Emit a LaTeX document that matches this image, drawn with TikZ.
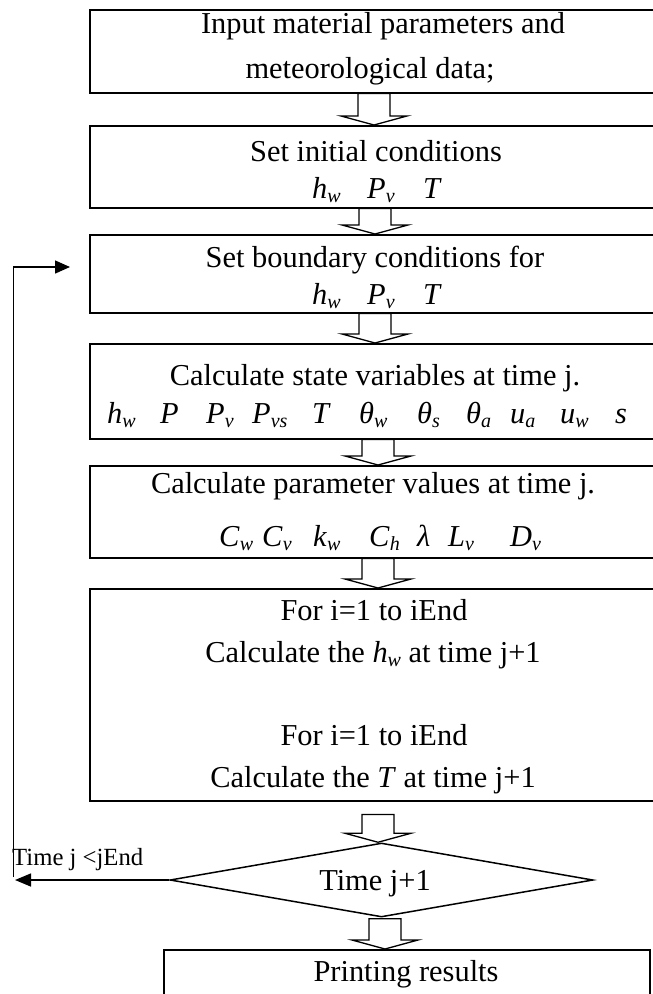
\documentclass[tikz,border=0pt]{standalone}
\usepackage{fontspec}
\setmainfont{Liberation Serif}
\usetikzlibrary{shapes.geometric,arrows.meta,calc}
\newcommand{\vr}[2]{\textit{#1}\raisebox{-4pt}{\fontsize{20}{20}\selectfont\itshape #2}}
\newcommand{\blkarrow}[4]{%
  \draw[barrow] let \p1=(#1.south), \p2=(#2.north) in
    (#3pt-16pt,\y1-#4pt) -- (#3pt-16pt,\y2+9pt) -- (#3pt-33pt,\y2+9pt) -- (#3pt,\y2)
    -- (#3pt+33pt,\y2+9pt) -- (#3pt+16pt,\y2+9pt) -- (#3pt+16pt,\y1-#4pt) -- cycle;}
\begin{document}
\begin{tikzpicture}[x=1pt,y=-1pt,
  box/.style={draw, line width=1.5pt, rectangle, inner sep=0pt, anchor=north west},
  txt/.style={font=\fontsize{30.4}{36}\selectfont, inner sep=0pt, anchor=base},
  vtxt/.style={font=\fontsize{30.4}{36}\selectfont, inner sep=0pt, anchor=base west},
  barrow/.style={draw, line width=1.3pt, line join=miter},
  loopline/.style={line width=1.5pt},
  lbl/.style={font=\fontsize{24.7}{28}\selectfont, inner sep=0pt, anchor=base west}]
\useasboundingbox (0,0) rectangle (653,994);
\fill[white] (0,0) rectangle (653,994);
\clip (0,0) rectangle (653,994);

% boxes
\node[box, minimum width=572pt, minimum height=83pt]  (b1) at (89,9) {};
\node[box, minimum width=572pt, minimum height=82pt]  (b2) at (89,125) {};
\node[box, minimum width=572pt, minimum height=78pt]  (b3) at (89,234) {};
\node[box, minimum width=572pt, minimum height=95pt]  (b4) at (89,343) {};
\node[box, minimum width=572pt, minimum height=92pt]  (b5) at (89,465) {};
\node[box, minimum width=572pt, minimum height=212pt] (b6) at (89,588) {};
\node[draw, line width=1.5pt, shape=diamond, shape aspect=5.7, minimum width=423pt, minimum height=74pt, inner sep=0pt] (dia) at (381.5,880) {};
\node[box, minimum width=486pt, minimum height=80pt]  (b7) at (163,949) {};

% texts
\node[txt] (t1a) at (383,33) {Input material parameters and};
\node[txt] (t1b) at (370,78) {meteorological data;};
\node[txt] (t2) at (376,161) {Set initial conditions};
\node[txt] (t3) at (375,267) {Set boundary conditions for};
\node[txt] (t4) at (375,385) {Calculate state variables at time j.};
\node[txt] (t5) at (373,493) {Calculate parameter values at time j.};
\node[txt] (t6a) at (374,620) {For i=1 to iEnd};
\node[txt] (t6b) at (373,662) {Calculate the \vr{h}{w} at time j+1};
\node[txt] (t6c) at (374,745) {For i=1 to iEnd};
\node[txt] (t6d) at (373,787) {Calculate the \textit{T} at time j+1};
\node[txt] (dt) at (375,890) {Time j+1};
\node[txt] (t7) at (406,981) {Printing results};

% variable rows
\foreach \x/\t [count=\i] in {312/{\vr{h}{w}},367/{\vr{P}{v}},423/{\textit{T}}}
  \node[vtxt] (r2-\i) at (\x,198) {\t};
\foreach \x/\t [count=\i] in {312/{\vr{h}{w}},367/{\vr{P}{v}},423/{\textit{T}}}
  \node[vtxt] (r3-\i) at (\x,304) {\t};
\foreach \x/\t [count=\i] in {107/{\vr{h}{w}},160/{\textit{P}},206/{\vr{P}{v}},252/{\vr{P}{vs}},312/{\textit{T}},359/{\vr{θ}{w}},417/{\vr{θ}{s}},466/{\vr{θ}{a}},510/{\vr{u}{a}},560/{\vr{u}{w}},615/{\textit{s}}}
  \node[vtxt] (r4-\i) at (\x,423) {\t};
\foreach \x/\t [count=\i] in {219/{\vr{C}{w}},262/{\vr{C}{v}},313/{\vr{k}{w}},369/{\vr{C}{h}},417/{\textit{λ}},448/{\vr{L}{v}},510/{\vr{D}{v}}}
  \node[vtxt] (r5-\i) at (\x,546) {\t};

% block arrows
\blkarrow{b1}{b2}{374}{0}
\blkarrow{b2}{b3}{375}{0}
\blkarrow{b3}{b4}{375}{0}
\blkarrow{b4}{b5}{378}{0}
\blkarrow{b5}{b6}{378}{0}
\blkarrow{b6}{dia}{378}{13}
\blkarrow{dia}{b7}{385}{1}

% loop back
\coordinate (lb) at (15,880);
\coordinate (lbv) at (13.5,877);
\coordinate (lt) at (13.5,267);
\coordinate (ltip) at (70,267);
\draw[loopline, -{Triangle[length=16pt,width=13pt]}] (dia.west) -- (dia.west -| lb);
\draw[loopline, -{Triangle[length=15pt,width=13pt]}] (lbv) -- (lt) -- (ltip);
\node[lbl] (lab) at (12,865) {Time j <jEnd};
\end{tikzpicture}
\end{document}
